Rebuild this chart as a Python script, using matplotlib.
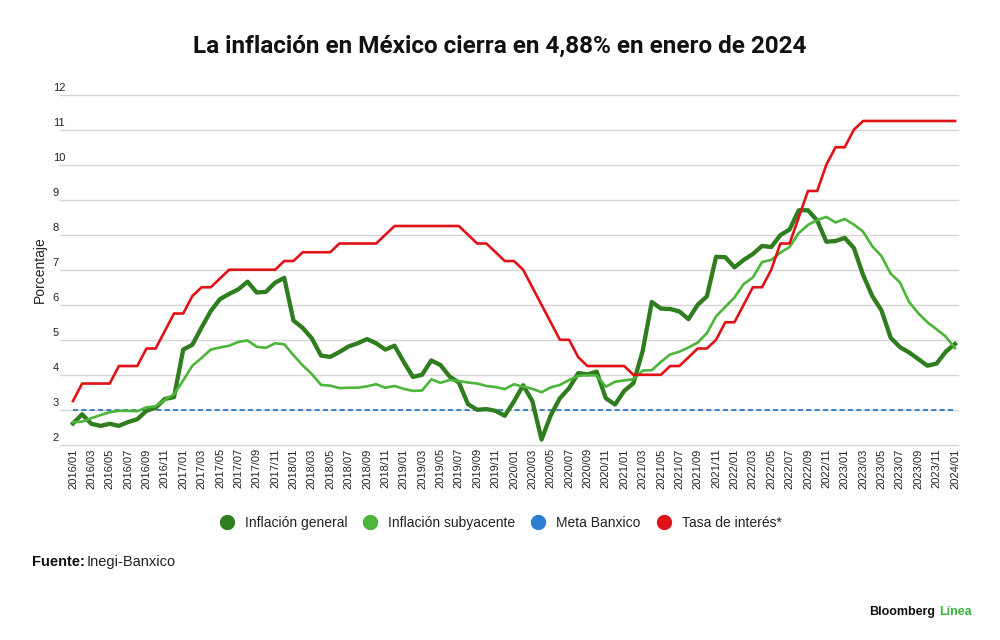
import matplotlib
matplotlib.use("Agg")
import matplotlib.pyplot as plt
from matplotlib import font_manager
from matplotlib.lines import Line2D
import numpy as np

# --- data (monthly, 2016/01 .. 2024/01) ---
months = [f"{y}/{m:02d}" for y in range(2016, 2025) for m in range(1, 13)][:97]

inflacion_general = [
    2.61, 2.87, 2.60, 2.54, 2.60, 2.54, 2.65, 2.73, 2.97, 3.06, 3.31, 3.36,
    4.72, 4.86, 5.35, 5.82, 6.16, 6.31, 6.44, 6.66, 6.35, 6.37, 6.63, 6.77,
    5.55, 5.34, 5.04, 4.55, 4.51, 4.65, 4.81, 4.90, 5.02, 4.90, 4.72, 4.83,
    4.37, 3.94, 4.00, 4.41, 4.28, 3.95, 3.78, 3.16, 3.00, 3.02, 2.97, 2.83,
    3.24, 3.70, 3.25, 2.15, 2.84, 3.33, 3.62, 4.05, 4.01, 4.09, 3.33, 3.15,
    3.54, 3.76, 4.67, 6.08, 5.89, 5.88, 5.81, 5.59, 6.00, 6.24, 7.37, 7.36,
    7.07, 7.28, 7.45, 7.68, 7.65, 7.99, 8.15, 8.70, 8.70, 8.41, 7.80, 7.82,
    7.91, 7.62, 6.85, 6.25, 5.84, 5.06, 4.79, 4.64, 4.45, 4.26, 4.32, 4.66,
    4.88,
]

inflacion_subyacente = [
    2.64, 2.66, 2.76, 2.85, 2.93, 2.97, 2.97, 2.96, 3.07, 3.10, 3.29, 3.44,
    3.84, 4.26, 4.48, 4.72, 4.78, 4.83, 4.94, 4.98, 4.80, 4.77, 4.90, 4.87,
    4.56, 4.27, 4.02, 3.71, 3.69, 3.62, 3.63, 3.63, 3.67, 3.73, 3.63, 3.68,
    3.60, 3.54, 3.55, 3.87, 3.77, 3.85, 3.82, 3.78, 3.75, 3.68, 3.65, 3.59,
    3.73, 3.66, 3.60, 3.50, 3.64, 3.71, 3.85, 3.97, 3.99, 3.98, 3.66, 3.80,
    3.84, 3.87, 4.12, 4.13, 4.37, 4.58, 4.66, 4.78, 4.92, 5.19, 5.67, 5.94,
    6.21, 6.59, 6.78, 7.22, 7.28, 7.49, 7.65, 8.05, 8.28, 8.42, 8.51, 8.35,
    8.45, 8.29, 8.09, 7.67, 7.39, 6.89, 6.64, 6.08, 5.76, 5.50, 5.30, 5.09,
    4.76,
]

tasa_interes = [
    3.25, 3.75, 3.75, 3.75, 3.75, 4.25, 4.25, 4.25, 4.75, 4.75, 5.25, 5.75,
    5.75, 6.25, 6.50, 6.50, 6.75, 7.00, 7.00, 7.00, 7.00, 7.00, 7.00, 7.25,
    7.25, 7.50, 7.50, 7.50, 7.50, 7.75, 7.75, 7.75, 7.75, 7.75, 8.00, 8.25,
    8.25, 8.25, 8.25, 8.25, 8.25, 8.25, 8.25, 8.00, 7.75, 7.75, 7.50, 7.25,
    7.25, 7.00, 6.50, 6.00, 5.50, 5.00, 5.00, 4.50, 4.25, 4.25, 4.25, 4.25,
    4.25, 4.00, 4.00, 4.00, 4.00, 4.25, 4.25, 4.50, 4.75, 4.75, 5.00, 5.50,
    5.50, 6.00, 6.50, 6.50, 7.00, 7.75, 7.75, 8.50, 9.25, 9.25, 10.00, 10.50,
    10.50, 11.00, 11.25, 11.25, 11.25, 11.25, 11.25, 11.25, 11.25, 11.25, 11.25, 11.25,
    11.25,
]

meta_banxico = [3.0] * 97

y_ticks = [2, 3, 4, 5, 6, 7, 8, 9, 10, 11, 12]

# --- styling ---
names = {f.name for f in font_manager.fontManager.ttflist}
title_font = "Liberation Sans Narrow" if "Liberation Sans Narrow" in names else "Roboto"
body_font = "Liberation Sans"
plt.rcParams["font.family"] = [body_font, "DejaVu Sans"]

c_general = "#2f7d1f"
c_sub = "#4cb53a"
c_meta = "#1f6fc0"
c_tasa = "#e01218"
c_grid = "#d6d6d6"
c_text = "#222222"

fig = plt.figure(figsize=(10, 6.4), dpi=100)
ax = fig.add_axes([0.060, 0.305, 0.898, 0.547])

x = np.arange(len(months))
ax.plot(x, inflacion_general, color=c_general, lw=3.1, zorder=3)
ax.plot(x, inflacion_subyacente, color=c_sub, lw=1.9, zorder=4)
ax.plot(x, meta_banxico, color=c_meta, lw=1.2, ls=(0, (3, 2)), zorder=2)
ax.plot(x, tasa_interes, color=c_tasa, lw=1.9, zorder=5)

ax.set_xlim(-1.41, 96.33)
ax.set_ylim(2, 12)

# horizontal gridlines with labels sitting above their left end
for v in y_ticks:
    ax.axhline(v, color=c_grid, lw=1.0, zorder=1, clip_on=False)
    ax.text(-0.008, v + 0.06, str(v), transform=ax.get_yaxis_transform(),
            ha="left", va="bottom", fontsize=8, color=c_text)

for s in ax.spines.values():
    s.set_visible(False)
ax.set_yticks([])
ax.set_xticks(x[::2])
ax.set_xticklabels(months[::2], rotation=90, fontsize=8, color=c_text)
ax.tick_params(axis="x", length=0, pad=2.5)

fig.text(0.040, 0.578, "Porcentaje", rotation=90, ha="center", va="center",
         fontsize=10, color=c_text)

# title
fig.text(0.5, 0.927, "La inflación en México cierra en 4,88% en enero de 2024",
         ha="center", va="center", fontsize=17.5, fontweight="bold",
         family=[title_font, "DejaVu Sans"], color="#111111")

# legend
handles = [
    Line2D([], [], ls="none", marker="o", ms=10, color=c_general, label="Inflación general"),
    Line2D([], [], ls="none", marker="o", ms=10, color=c_sub, label="Inflación subyacente"),
    Line2D([], [], ls="none", marker="o", ms=10, color="#2a7fd4", label="Meta Banxico"),
    Line2D([], [], ls="none", marker="o", ms=10, color=c_tasa, label="Tasa de interés*"),
]
fig.legend(handles=handles, loc="center", bbox_to_anchor=(0.5, 1 - 523 / 640), ncol=4,
           frameon=False, fontsize=10, handletextpad=0.7, columnspacing=1.05,
           handlelength=1.2, labelcolor=c_text)

# source
t1 = fig.text(0.032, 1 - 562 / 640, "Fuente:", ha="left", va="center", fontsize=10.5,
              fontweight="bold", color="#111111")
fig.canvas.draw()
bb = t1.get_window_extent()
fig.text(bb.x1 / 1000 + 0.002, 1 - 562 / 640, "Inegi-Banxico", ha="left", va="center",
         fontsize=10.5, color=c_text)

# brand
t2 = fig.text(0.972, 1 - 612 / 640, "Línea", ha="right", va="center", fontsize=9,
              fontweight="bold", color="#3cb43c")
fig.canvas.draw()
bb2 = t2.get_window_extent()
fig.text(bb2.x0 / 1000 - 0.004, 1 - 612 / 640, "Bloomberg", ha="right", va="center",
         fontsize=9, fontweight="bold", color="#111111")

fig.savefig("out.png", dpi=100, facecolor="white")
